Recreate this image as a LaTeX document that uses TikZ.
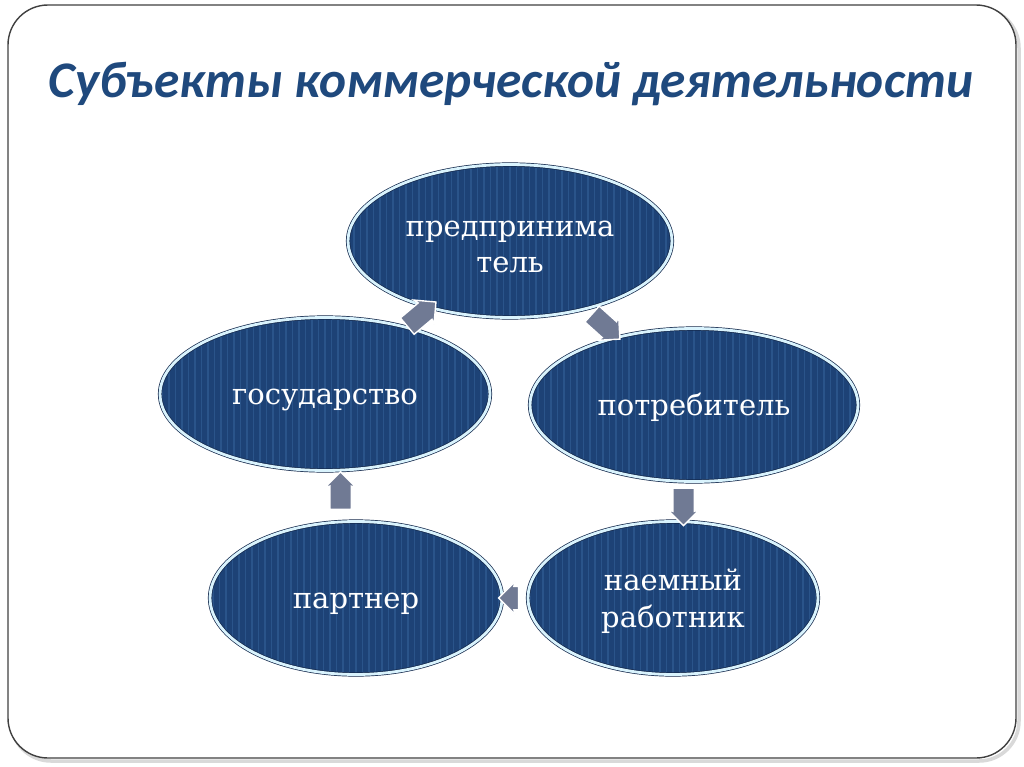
\documentclass[tikz,border=0pt]{standalone}
\usepackage{fontspec}
\setmainfont{DejaVu Serif}
\newfontfamily\titlefont{Carlito}
\usetikzlibrary{calc,shapes.geometric,shapes.arrows}
\definecolor{navy}{RGB}{29,66,118}
\definecolor{navyline}{RGB}{42,84,138}
\definecolor{navyedge}{RGB}{20,40,75}
\definecolor{titleblue}{RGB}{31,73,125}
\definecolor{arrowgrey}{RGB}{112,122,148}
\newcommand{\up}{\rule{0pt}{0.55cm}}
\tikzset{
  subj/.style={ellipse, fill=navy, draw=navyedge, double=white!85!cyan, double distance=1.6pt,
    minimum width=#1, minimum height=3.06cm, inner sep=0pt, align=center,
    text=white, font=\fontsize{16.5}{21}\selectfont,
    path picture={\foreach \i in {-50,...,50}
      \draw[navyline, line width=1.1pt] ([xshift=\i*3.7pt]path picture bounding box.south) -- ([xshift=\i*3.7pt]path picture bounding box.north);}},
  subj/.default=6.5cm,
  flow/.style={single arrow, fill=arrowgrey, draw=white, line width=0.8pt, minimum height=0.75cm,
    inner xsep=0pt, inner ysep=0.2cm, single arrow head extend=0.1cm, single arrow head indent=0.03cm}
}
\begin{document}
\begin{tikzpicture}[x=0.02cm,y=-0.02cm]
  \useasboundingbox (0,0) rectangle (1024,767);
  \draw[black!15, line width=2pt, rounded corners=0.8cm] (11,8) rectangle (1019,761);
  \draw[black!75, line width=0.8pt, fill=white, rounded corners=0.8cm] (8,5) rectangle (1016,758);
  \node[font=\titlefont\bfseries\itshape\fontsize{29.2}{34}\selectfont, text=titleblue] (title) at (511,84) {Субъекты коммерческой деятельности};
  % cycle
  \node[subj=6.48cm] (pred) at (510,241) {\up предпринима\\тель};
  \node[subj=6.6cm]  (gos)  at (325,394) {\up государство};
  \node[subj=6.56cm] (potr) at (694,405) {\up потребитель};
  \node[subj=5.84cm] (part) at (356,598) {\up партнер};
  \node[subj=5.8cm]  (naem) at (673,598) {\up наемный\\работник};
  % arrows between
  \node[flow, rotate=40]  (a1) at ($(gos)!0.5!(pred)$) {};
  \node[flow, rotate=-42] (a2) at ($(pred)!0.5!(potr)$) {};
  \node[flow, rotate=-90] (a3) at ($(potr)!0.5!(naem)$) {};
  \node[flow, rotate=180, minimum height=0.4cm, inner ysep=0.22cm] (a4) at ($(naem)!0.5!(part)$) {};
  \node[flow, rotate=90]  (a5) at ($(part)!0.5!(gos)$) {};
\end{tikzpicture}
\end{document}
